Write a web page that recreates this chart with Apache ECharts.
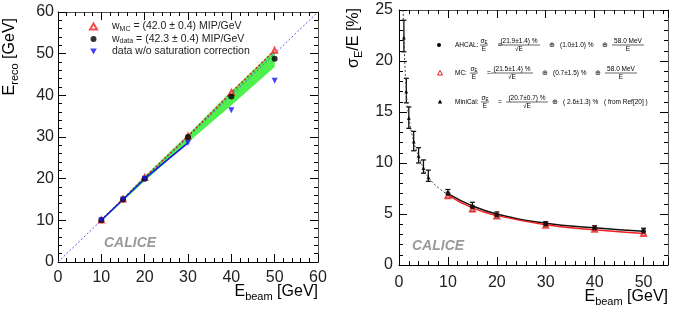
<!DOCTYPE html>
<html><head><meta charset="utf-8">
<script src="https://cdn.jsdelivr.net/npm/echarts@6/dist/echarts.min.js"></script>
<style>html,body{margin:0;padding:0;background:#fff}#c{width:676px;height:313px}</style>
</head><body><div id="c"></div>
<script>
// ---- left panel data ----
const beamE = [10, 15, 20, 30, 40, 50];
const recoMC = [10.1, 15.1, 20.3, 30.2, 40.7, 50.8];
const recoData = [10.0, 15.0, 20.0, 30.0, 39.7, 48.8];
const recoNoSat = [10.0, 15.0, 20.0, 28.6, 36.4, 43.5];
const bandLow = [9.8, 14.6, 19.4, 28.7, 37.6, 46.8];
const bandHigh = [10.2, 15.3, 20.6, 30.6, 41.0, 51.0];
const diagonal = [[0, 0], [60, 60]];
const leftTicks = [0, 10, 20, 30, 40, 50, 60];

// ---- right panel data ----
const resE = [10, 15, 20, 30, 40, 50];
const resAHCAL = [7.0, 5.7, 4.9, 4.0, 3.6, 3.3];
const errAHCAL = [0.4, 0.45, 0.3, 0.25, 0.25, 0.3];
const resMC = [6.8, 5.5, 4.8, 3.9, 3.5, 3.1];
const miniE = [1, 1.5, 2, 3, 4, 5, 6];
const resMini = [22.3, 17.0, 14.4, 12.1, 10.7, 9.5, 8.6];
const errMiniLow = [20.9, 15.9, 13.4, 11.2, 10.0, 9.0, 8.2];
const errMiniHigh = [24.0, 18.3, 15.5, 13.1, 11.5, 10.3, 9.3];
const fitMiniE = [0.85, 1, 1.5, 2, 3, 4, 5, 6, 8, 10];
const fitMini = [25, 22.3, 17.0, 14.6, 12.1, 10.7, 9.5, 8.6, 7.6, 6.9];
const fitAHCAL = [7.0, 5.8, 5.0, 4.1, 3.65, 3.3];
const fitMC = [6.85, 5.6, 4.85, 3.95, 3.45, 3.1];
const rightXTicks = [0, 10, 20, 30, 40, 50];
const rightYTicks = [0, 5, 10, 15, 20, 25];

const FONT = '"Liberation Sans", Arial, sans-serif';
const zip = (a, b) => a.map((v, i) => [v, b[i]]);
const DOWN_TRI = 'path://M0,0 L10,0 L5,9 Z';

const chart = echarts.init(document.getElementById('c'));

function axis(extra) {
  return Object.assign({
    type: 'value',
    axisLine: { onZero: false, lineStyle: { color: '#000', width: 1 } },
    axisTick: { inside: true, length: 8, lineStyle: { color: '#000' } },
    minorTick: { show: true, splitNumber: 5, length: 4, lineStyle: { color: '#000' } },
    splitLine: { show: false },
    axisLabel: { fontFamily: FONT, fontSize: 16, color: '#222' }
  }, extra);
}
function mirror(extra) {
  return axis(Object.assign({ axisLabel: { show: false } }, extra));
}

function errorBars(xi, yi, data, color) {
  return {
    type: 'custom', xAxisIndex: xi, yAxisIndex: yi, data: data, z: 3, silent: true,
    encode: { x: 0, y: [1, 2] },
    renderItem(params, api) {
      const x = api.value(0), lo = api.value(1), hi = api.value(2);
      const p1 = api.coord([x, lo]), p2 = api.coord([x, hi]);
      const w = 2.5, st = { stroke: color, lineWidth: 1.3 };
      return { type: 'group', children: [
        { type: 'line', shape: { x1: p1[0], y1: p1[1], x2: p2[0], y2: p2[1] }, style: st },
        { type: 'line', shape: { x1: p1[0] - w, y1: p1[1], x2: p1[0] + w, y2: p1[1] }, style: st },
        { type: 'line', shape: { x1: p2[0] - w, y1: p2[1], x2: p2[0] + w, y2: p2[1] }, style: st }
      ]};
    }
  };
}

const subRich = {
  m: { fontFamily: FONT, fontSize: 16, color: '#222' },
  s: { fontFamily: FONT, fontSize: 11, color: '#222', padding: [9, 0, 0, 0] }
};

// small legend text helpers (right panel)
const LS = 6.5;
function t(x, y, s, align, size) {
  return { type: 'text', x: x, y: y, style: { text: s, fontFamily: FONT, fontSize: size || LS, fill: '#000', align: align || 'left', verticalAlign: 'middle' } };
}
function sigmaFrac(xc, y) {
  return { type: 'group', children: [
    { type: 'text', x: xc, y: y - 3.5, style: { text: '{a|σ}{b|E}', align: 'center', verticalAlign: 'middle',
      rich: { a: { fontFamily: FONT, fontSize: LS, fill: '#000' }, b: { fontFamily: FONT, fontSize: 4.5, fill: '#000', padding: [2, 0, 0, 0] } } } },
    { type: 'line', shape: { x1: xc - 4, y1: y, x2: xc + 4, y2: y }, style: { stroke: '#000', lineWidth: 0.6 } },
    t(xc, y + 4, 'E', 'center')
  ]};
}
function frac(xc, y, num, den, w) {
  return { type: 'group', children: [
    t(xc, y - 4, num, 'center'),
    { type: 'line', shape: { x1: xc - w / 2, y1: y, x2: xc + w / 2, y2: y }, style: { stroke: '#000', lineWidth: 0.6 } },
    t(xc, y + 4.5, den, 'center')
  ]};
}

const rightLegend = [
  { type: 'circle', shape: { cx: 439, cy: 45, r: 2 }, style: { fill: '#000' } },
  t(455, 45, 'AHCAL:'), sigmaFrac(484, 45), t(500, 45, '=', 'center'),
  frac(519, 45, '(21.9±1.4) %', '√E', 42), t(552, 45, '⊕', 'center'),
  t(560, 45, '(1.0±1.0) %'), t(605, 45, '⊕', 'center'),
  frac(628, 45, '58.0 MeV', 'E', 32),

  { type: 'polygon', shape: { points: [[440, 70.5], [437.5, 75], [442.5, 75]] }, style: { fill: 'none', stroke: '#e00', lineWidth: 0.9 } },
  t(455, 73, 'MC:'), sigmaFrac(474, 73), t(489, 73, '=', 'center'),
  frac(512, 73, '(21.5±1.4) %', '√E', 42), t(545, 73, '⊕', 'center'),
  t(553, 73, '(0.7±1.5) %'), t(598, 73, '⊕', 'center'),
  frac(621, 73, '58.0 MeV', 'E', 32),

  { type: 'polygon', shape: { points: [[440, 99.5], [437.8, 103.5], [442.2, 103.5]] }, style: { fill: '#000' } },
  t(455, 102, 'MiniCal:'), sigmaFrac(485, 102), t(500, 102, '=', 'center'),
  frac(527, 102, '(20.7±0.7) %', '√E', 42), t(555, 102, '⊕', 'center'),
  t(563, 102, '( 2.6±1.3) %'), t(604, 102, '( from Ref[20] )')
];

const option = {
  animation: false,
  backgroundColor: '#fff',
  grid: [
    { left: 58, top: 12, width: 260, height: 250 },
    { left: 399, top: 10, width: 269, height: 255 }
  ],
  xAxis: [
    axis({ gridIndex: 0, min: leftTicks[0], max: leftTicks[leftTicks.length - 1], interval: 10, position: 'bottom', axisLabel: { fontFamily: FONT, fontSize: 16, color: '#222', margin: 8 } }),
    mirror({ gridIndex: 0, min: 0, max: 60, interval: 10, position: 'top', axisLine: { onZero: false, lineStyle: { color: '#555' } } }),
    axis({ gridIndex: 1, min: rightXTicks[0], max: 55, interval: 10, position: 'bottom', axisLabel: { fontFamily: FONT, fontSize: 16, color: '#222', margin: 10, showMaxLabel: false } }),
    mirror({ gridIndex: 1, min: 0, max: 55, interval: 10, position: 'top', axisLine: { onZero: false, lineStyle: { color: '#555' } } })
  ],
  yAxis: [
    axis({ gridIndex: 0, min: leftTicks[0], max: leftTicks[leftTicks.length - 1], interval: 10, position: 'left', axisLabel: { fontFamily: FONT, fontSize: 16, color: '#222', margin: 4 } }),
    mirror({ gridIndex: 0, min: 0, max: 60, interval: 10, position: 'right', axisLine: { onZero: false, lineStyle: { color: '#555' } } }),
    axis({ gridIndex: 1, min: rightYTicks[0], max: rightYTicks[rightYTicks.length - 1], interval: 5, position: 'left', axisLabel: { fontFamily: FONT, fontSize: 16, color: '#222', margin: 6 } }),
    mirror({ gridIndex: 1, min: 0, max: 25, interval: 5, position: 'right', axisLine: { onZero: false, lineStyle: { color: '#555' } } })
  ],
  legend: {
    left: 84, top: 16, orient: 'vertical', itemGap: 1, itemWidth: 7, itemHeight: 6,
    data: ['MC', 'data', 'nosat'],
    textStyle: { fontFamily: FONT, fontSize: 10.5, color: '#222', padding: [0, 0, 0, 10],
      rich: { n: { fontFamily: FONT, fontSize: 10.5, color: '#222' }, s: { fontFamily: FONT, fontSize: 7, color: '#222', padding: [5, 0, 0, 0] } } },
    formatter: function (name) {
      if (name === 'MC') return '{n|w}{s|MC}{n| = (42.0 ± 0.4) MIP/GeV}';
      if (name === 'data') return '{n|w}{s|data}{n| = (42.3 ± 0.4) MIP/GeV}';
      return '{n|data w/o saturation correction}';
    }
  },
  graphic: [
    { type: 'text', x: 10, y: 18, rotation: Math.PI / 2, style: { text: '{m|E}{s|reco}{m| [GeV]}', align: 'right', verticalAlign: 'middle', rich: subRich } },
    { type: 'text', x: 318, y: 292, style: { text: '{m|E}{s|beam}{m| [GeV]}', align: 'right', verticalAlign: 'middle', rich: subRich } },
    { type: 'text', x: 354, y: 8, rotation: Math.PI / 2, style: { text: '{m|σ}{s|E}{m|/E [%]}', align: 'right', verticalAlign: 'middle', rich: subRich } },
    { type: 'text', x: 668, y: 297, style: { text: '{m|E}{s|beam}{m| [GeV]}', align: 'right', verticalAlign: 'middle', rich: subRich } },
    { type: 'text', x: 104, y: 243, style: { text: 'CALICE', fontFamily: FONT, fontSize: 14, fontWeight: 'bold', fontStyle: 'italic', fill: '#9a9a9a', verticalAlign: 'middle' } },
    { type: 'text', x: 412, y: 246, style: { text: 'CALICE', fontFamily: FONT, fontSize: 14, fontWeight: 'bold', fontStyle: 'italic', fill: '#9a9a9a', verticalAlign: 'middle' } }
  ].concat(rightLegend),
  series: [
    // left panel
    {
      type: 'custom', xAxisIndex: 0, yAxisIndex: 0, silent: true, z: 1,
      data: beamE.map((x, i) => [x, bandLow[i], bandHigh[i]]),
      encode: { x: 0, y: [1, 2] },
      renderItem(params, api) {
        if (params.dataIndex !== 0) return;
        const pts = [];
        beamE.forEach((x, i) => pts.push(api.coord([x, bandHigh[i]])));
        for (let i = beamE.length - 1; i >= 0; i--) pts.push(api.coord([beamE[i], bandLow[i]]));
        return { type: 'polygon', shape: { points: pts }, style: { fill: '#4ef04e' } };
      }
    },
    { name: 'diag', type: 'line', xAxisIndex: 0, yAxisIndex: 0, data: diagonal, symbol: 'none', z: 2,
      lineStyle: { color: '#5a5af5', width: 1, type: [2, 2] } },
    { name: 'mcline', type: 'line', xAxisIndex: 0, yAxisIndex: 0, data: zip(beamE, recoMC), symbol: 'none', z: 2,
      lineStyle: { color: '#e02020', width: 1.5, type: [2, 2] } },
    { name: 'nosatline', type: 'line', xAxisIndex: 0, yAxisIndex: 0, data: zip(beamE, recoNoSat).slice(0, 4), symbol: 'none', z: 2,
      lineStyle: { color: '#1515ee', width: 1.5 } },
    { name: 'MC', type: 'scatter', xAxisIndex: 0, yAxisIndex: 0, data: zip(beamE, recoMC), symbol: 'emptyTriangle', symbolSize: 5, z: 4,
      itemStyle: { color: '#ee2020', borderColor: '#ee2020', borderWidth: 1 } },
    { name: 'data', type: 'scatter', xAxisIndex: 0, yAxisIndex: 0, data: zip(beamE, recoData), symbol: 'circle', symbolSize: 6, z: 5,
      itemStyle: { color: '#000' } },
    { name: 'nosat', type: 'scatter', xAxisIndex: 0, yAxisIndex: 0, data: zip(beamE, recoNoSat), symbol: DOWN_TRI, symbolSize: [6, 6], z: 6,
      itemStyle: { color: '#1515ee' } },

    // right panel
    { name: 'fitMini', type: 'line', xAxisIndex: 2, yAxisIndex: 2, data: zip(fitMiniE, fitMini), symbol: 'none', smooth: true,
      lineStyle: { color: '#444', width: 1, type: [2, 2] } },
    { name: 'fitAHCAL', type: 'line', xAxisIndex: 2, yAxisIndex: 2, data: zip(resE, fitAHCAL), symbol: 'none', smooth: true,
      lineStyle: { color: '#111', width: 1.5 } },
    { name: 'fitMC', type: 'line', xAxisIndex: 2, yAxisIndex: 2, data: zip(resE, fitMC), symbol: 'none', smooth: true,
      lineStyle: { color: '#ee2020', width: 1.5 } },
    errorBars(2, 2, resE.map((x, i) => [x, resAHCAL[i] - errAHCAL[i], resAHCAL[i] + errAHCAL[i]]), '#111'),
    errorBars(2, 2, miniE.map((x, i) => [x, errMiniLow[i], errMiniHigh[i]]), '#111'),
    { name: 'AHCAL', type: 'scatter', xAxisIndex: 2, yAxisIndex: 2, data: zip(resE, resAHCAL), symbol: 'circle', symbolSize: 5, z: 5,
      itemStyle: { color: '#000' } },
    { name: 'MCres', type: 'scatter', xAxisIndex: 2, yAxisIndex: 2, data: zip(resE, resMC), symbol: 'emptyTriangle', symbolSize: 5, z: 4,
      itemStyle: { color: '#ee2020', borderColor: '#ee2020', borderWidth: 1 } },
    { name: 'MiniCal', type: 'scatter', xAxisIndex: 2, yAxisIndex: 2, data: zip(miniE, resMini), symbol: 'triangle', symbolSize: 4, z: 5,
      itemStyle: { color: '#000' } }
  ]
};
chart.setOption(option);
</script>
</body></html>
